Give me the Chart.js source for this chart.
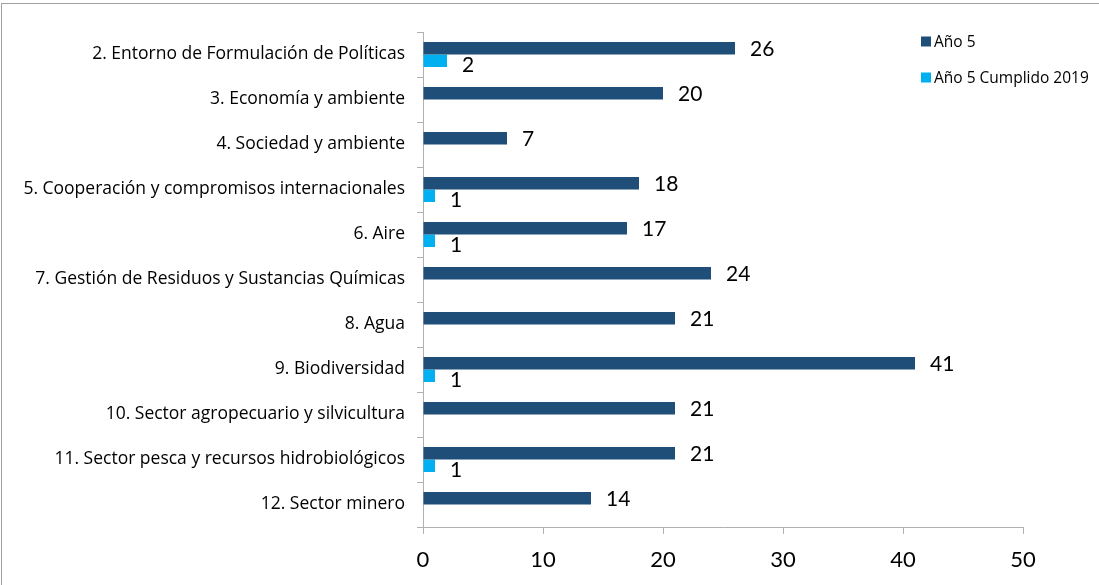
<!DOCTYPE html>
<html>
<head>
<meta charset="utf-8">
<script src="https://cdn.jsdelivr.net/npm/chart.js@4.4.1/dist/chart.umd.min.js"></script>
<style>
  html, body { margin: 0; padding: 0; background: #fff; }
  #wrap { width: 1099px; height: 585px; position: relative; }
</style>
</head>
<body>
<div id="wrap"><canvas id="chart" width="1099" height="585"></canvas></div>
<script>
const categories = [
  "2. Entorno de Formulación de Políticas",
  "3. Economía y ambiente",
  "4. Sociedad y ambiente",
  "5. Cooperación y compromisos internacionales",
  "6. Aire",
  "7. Gestión de Residuos y Sustancias Químicas",
  "8. Agua",
  "9. Biodiversidad",
  "10. Sector agropecuario y silvicultura",
  "11. Sector pesca y recursos hidrobiológicos",
  "12. Sector minero"
];
const ano5 = [26, 20, 7, 18, 17, 24, 21, 41, 21, 21, 14];
const ano5Cumplido = [2, 0, 0, 1, 1, 0, 0, 1, 0, 1, 0];
const seriesNames = ["Año 5", "Año 5 Cumplido 2019"];
const xTicks = [0, 10, 20, 30, 40, 50];

const NUM_FONT = "Lato, sans-serif";
const TXT_FONT = "'Open Sans', sans-serif";
const DARK = "#1f4e79";
const LIGHT = "#00b0f0";
const AXIS = "#b0b0b0";

// etiquetas de valor a la derecha de cada barra (solo > 0)
const valueLabels = {
  id: "valueLabels",
  afterDatasetsDraw(chart) {
    const ctx = chart.ctx;
    ctx.save();
    ctx.font = "21px " + NUM_FONT;
    ctx.fillStyle = "#000";
    ctx.textAlign = "left";
    ctx.textBaseline = "middle";
    chart.data.datasets.forEach((ds, di) => {
      const meta = chart.getDatasetMeta(di);
      meta.data.forEach((bar, i) => {
        const v = ds.data[i];
        if (!v) return;
        ctx.fillText(String(v), bar.x + 15, bar.y + (di === 0 ? 1 : 4));
      });
    });
    ctx.restore();
  }
};

// leyenda arriba a la derecha + marco
const sideLegend = {
  id: "sideLegend",
  afterDraw(chart) {
    const ctx = chart.ctx;
    ctx.save();
    ctx.strokeStyle = "#a0a0a0";
    ctx.lineWidth = 1;
    ctx.strokeRect(1.5, 3.5, 1300, 1300);
    ctx.font = "15.5px " + TXT_FONT;
    ctx.textBaseline = "middle";
    chart.data.datasets.forEach((ds, i) => {
      const y = 41.5 + i * 36;
      ctx.fillStyle = ds.backgroundColor;
      ctx.fillRect(921, y - 5, 10, 10);
      ctx.fillStyle = "#000";
      ctx.fillText(ds.label, 934, y + 1);
    });
    ctx.restore();
  }
};

new Chart(document.getElementById("chart"), {
  type: "bar",
  data: {
    labels: categories,
    datasets: [
      { label: seriesNames[0], data: ano5, backgroundColor: DARK, borderWidth: 0 },
      { label: seriesNames[1], data: ano5Cumplido, backgroundColor: LIGHT, borderWidth: 0 }
    ]
  },
  options: {
    indexAxis: "y",
    responsive: false,
    animation: false,
    events: [],
    layout: { padding: { left: 0, right: 76, top: 32, bottom: 0 } },
    datasets: { bar: { categoryPercentage: 0.556, barPercentage: 1 } },
    plugins: { legend: { display: false }, tooltip: { enabled: false } },
    scales: {
      x: {
        min: 0, max: 50,
        afterBuildTicks: (s) => { s.ticks = xTicks.map(v => ({ value: v })); },
        afterFit: (s) => { s.height = 58; },
        grid: { drawOnChartArea: false, drawTicks: true, tickLength: 7, color: AXIS },
        border: { color: AXIS },
        ticks: { font: { family: NUM_FONT, size: 22 }, color: "#000", padding: 13 }
      },
      y: {
        afterFit: (s) => { s.width = 423; },
        grid: { drawOnChartArea: false, drawTicks: true, tickLength: 6, color: AXIS, offset: true },
        border: { color: AXIS },
        ticks: { font: { family: TXT_FONT, size: 17.5 }, color: "#000", padding: 12, autoSkip: false }
      }
    }
  },
  plugins: [valueLabels, sideLegend]
});
</script>
</body>
</html>
